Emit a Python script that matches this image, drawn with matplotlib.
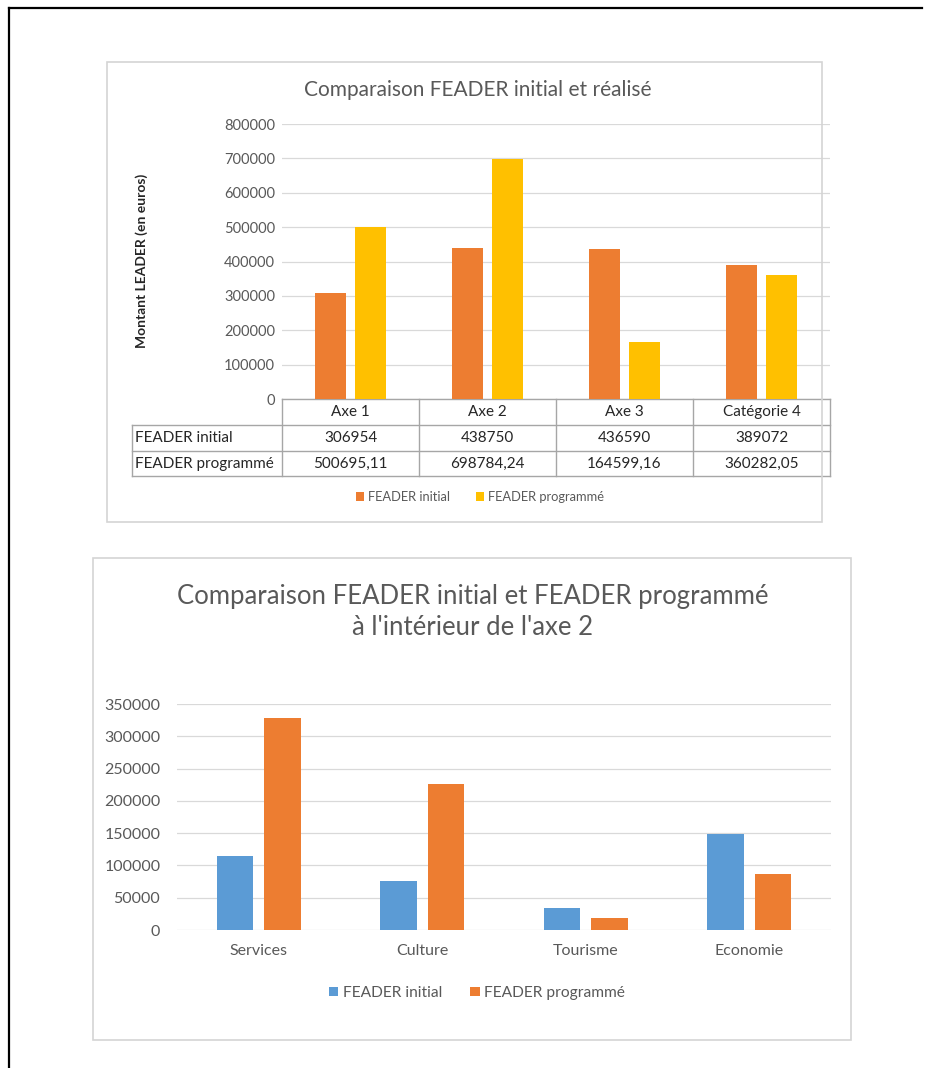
import matplotlib
matplotlib.use("Agg")
import matplotlib.pyplot as plt
from matplotlib.patches import Rectangle
from matplotlib.lines import Line2D

plt.rcParams['font.family'] = ['Lato', 'DejaVu Sans']

# --- data: chart 1 (FEADER initial vs programmé per axe) ---
axes_labels = ["Axe 1", "Axe 2", "Axe 3", "Catégorie 4"]
feader_initial = [306954, 438750, 436590, 389072]
feader_programme = [500695.11, 698784.24, 164599.16, 360282.05]
series1_names = ["FEADER initial", "FEADER programmé"]

# --- data: chart 2 (inside axe 2) ---
themes = ["Services", "Culture", "Tourisme", "Economie"]
axe2_initial = [115000, 76000, 34000, 148000]
axe2_programme = [328000, 226000, 18000, 86000]

W, H = 928, 1068
fig = plt.figure(figsize=(W / 100, H / 100), dpi=100)


def box(x0, y0, x1, y1):
    # pixel box (top-left origin) -> figure fraction rect
    return [x0 / W, 1 - y1 / H, (x1 - x0) / W, (y1 - y0) / H]


def fx(px):
    return px / W


def fy(py):
    return 1 - py / H


# outer frame (top and left only)
fig.add_artist(Line2D([fx(9), fx(922)], [fy(8), fy(8)], color="black", lw=1.6))
fig.add_artist(Line2D([fx(9), fx(9)], [fy(8), fy(1068)], color="black", lw=1.6))

# chart panels
for (x0, y0, x1, y1) in [(107, 62, 822, 522), (93, 558, 851, 1040)]:
    r = box(x0, y0, x1, y1)
    fig.add_artist(Rectangle((r[0], r[1]), r[2], r[3], transform=fig.transFigure,
                             fill=False, ec="#d4d4d4", lw=1.2))

ORANGE = "#ED7D31"
YELLOW = "#FFC000"
BLUE = "#5B9BD5"
GRID = "#d9d9d9"
TXT = "#595959"

# ================= chart 1 =================
ax1 = fig.add_axes(box(282, 124, 830, 399))
x = range(len(axes_labels))
w = 0.226
off = 0.144
b1 = ax1.bar([i - off for i in x], feader_initial, w, color=ORANGE, zorder=3)
b2 = ax1.bar([i + off for i in x], feader_programme, w, color=YELLOW, zorder=3)
ax1.set_xlim(-0.5, len(axes_labels) - 0.5)
ax1.set_ylim(0, 800000)
ax1.set_yticks(range(0, 800001, 100000))
ax1.set_yticklabels([str(v) for v in range(0, 800001, 100000)])
ax1.set_xticks([])
ax1.grid(axis="y", color=GRID, lw=0.9, zorder=0)
ax1.tick_params(axis="y", length=0, pad=5, labelsize=10.5, labelcolor=TXT)
for s in ax1.spines.values():
    s.set_visible(False)

fig.text(fx(478), fy(90), "Comparaison FEADER initial et réalisé",
         ha="center", va="center", fontsize=15, color=TXT)
fig.text(fx(142), fy(261), "Montant LEADER (en euros)", rotation=90,
         ha="center", va="center", fontsize=10, fontweight="bold", color="#262626")

# data table under chart 1
trans = ax1.get_xaxis_transform()
ah = 275.0
rows = [0, -26 / ah, -52 / ah, -77 / ah]
left = -0.5 - 150 / 137.0
LC = "#a6a6a6"
n = len(axes_labels)
ax1.plot([-0.5, n - 0.5], [rows[0]] * 2, color=LC, lw=1, transform=trans, clip_on=False)
for r in rows[1:]:
    ax1.plot([left, n - 0.5], [r, r], color=LC, lw=1, transform=trans, clip_on=False)
for i in range(n + 1):
    ax1.plot([i - 0.5, i - 0.5], [rows[0], rows[3]], color=LC, lw=1,
             transform=trans, clip_on=False)
ax1.plot([left, left], [rows[1], rows[3]], color=LC, lw=1, transform=trans, clip_on=False)

TFS = 11
for i, lab in enumerate(axes_labels):
    ax1.text(i, (rows[0] + rows[1]) / 2, lab, transform=trans, ha="center",
             va="center", fontsize=TFS, color="#262626")
    ax1.text(i, (rows[1] + rows[2]) / 2, str(feader_initial[i]), transform=trans,
             ha="center", va="center", fontsize=TFS, color="#262626")
    ax1.text(i, (rows[2] + rows[3]) / 2, f"{feader_programme[i]:.2f}".replace(".", ","),
             transform=trans, ha="center", va="center", fontsize=TFS, color="#262626")
for k, name in enumerate(series1_names):
    ax1.text(left + 0.02, (rows[k + 1] + rows[k + 2]) / 2, name, transform=trans,
             ha="left", va="center", fontsize=TFS, color="#262626")

fig.legend([b1, b2], series1_names, loc="center", bbox_to_anchor=(fx(480), fy(497)),
           ncol=2, frameon=False, fontsize=9.3, labelcolor=TXT, handlelength=0.6,
           handleheight=0.6, handletextpad=0.3, columnspacing=2.0)

# ================= chart 2 =================
ax2 = fig.add_axes(box(177, 704, 831, 930))
x2 = range(len(themes))
w2 = 0.222
off2 = 0.146
c1 = ax2.bar([i - off2 for i in x2], axe2_initial, w2, color=BLUE, zorder=3)
c2 = ax2.bar([i + off2 for i in x2], axe2_programme, w2, color=ORANGE, zorder=3)
ax2.set_xlim(-0.5, len(themes) - 0.5)
ax2.set_ylim(0, 350000)
ax2.set_yticks(range(0, 350001, 50000))
ax2.set_yticklabels([str(v) for v in range(0, 350001, 50000)])
ax2.set_xticks(list(x2))
ax2.set_xticklabels(themes)
ax2.grid(axis="y", color=GRID, lw=0.9, zorder=0)
ax2.tick_params(axis="y", length=0, pad=12, labelsize=11.5, labelcolor=TXT)
ax2.tick_params(axis="x", length=0, pad=10, labelsize=11.5, labelcolor=TXT)
for s in ax2.spines.values():
    s.set_visible(False)

fig.text(fx(473), fy(612), "Comparaison FEADER initial et FEADER programmé\nà l'intérieur de l'axe 2",
         ha="center", va="center", fontsize=18.5, color=TXT, linespacing=1.3)

fig.legend([c1, c2], ["FEADER initial", "FEADER programmé"], loc="center",
           bbox_to_anchor=(fx(477), fy(993)), ncol=2, frameon=False, fontsize=11.2,
           labelcolor=TXT, handlelength=0.6, handleheight=0.6, handletextpad=0.3,
           columnspacing=1.8)

fig.savefig("out.png", dpi=100)
plt.close(fig)
